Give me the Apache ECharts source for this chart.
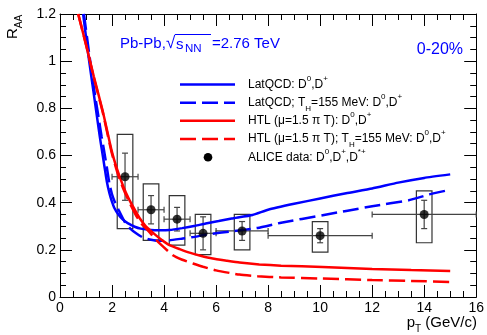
<!DOCTYPE html>
<html>
<head>
<meta charset="utf-8">
<script src="https://cdn.jsdelivr.net/npm/echarts@6/dist/echarts.min.js"></script>
<style>
html,body{margin:0;padding:0;background:#fff;}
#chart{width:487px;height:335px;}
</style>
</head>
<body>
<div id="chart"></div>
<script>
// ---- ALICE data points ----
const ptCenter = [2.5, 3.5, 4.5, 5.5, 7, 10, 14];
const ptLow    = [2, 3, 4, 5, 6, 8, 12];
const ptHigh   = [3, 4, 5, 6, 8, 12, 16];
const raa      = [0.51, 0.37, 0.33, 0.27, 0.28, 0.26, 0.35];
const statLow  = [0.41, 0.31, 0.28, 0.20, 0.24, 0.23, 0.29];
const statHigh = [0.61, 0.43, 0.38, 0.34, 0.32, 0.29, 0.41];
const sysLow   = [0.29, 0.24, 0.22, 0.18, 0.20, 0.19, 0.23];
const sysHigh  = [0.69, 0.48, 0.43, 0.35, 0.35, 0.32, 0.45];

// ---- model curves ----
const latX  = [0.89, 1.08, 1.3, 1.44, 1.53, 1.6, 1.7, 1.8, 1.9, 1.98, 2.1, 2.23, 2.4, 2.6, 2.87, 3.1, 3.5, 3.85, 4.2, 4.7, 5.2, 5.6, 6.1, 6.6, 7.4, 8, 9, 10, 11, 12, 13, 14, 15];
const latY  = [1.2, 1.033, 0.86, 0.75, 0.68, 0.63, 0.56, 0.49, 0.44, 0.41, 0.375, 0.352, 0.33, 0.313, 0.298, 0.29, 0.284, 0.283, 0.284, 0.292, 0.302, 0.312, 0.322, 0.333, 0.348, 0.37, 0.395, 0.418, 0.44, 0.46, 0.485, 0.505, 0.52];
const latTX = [0.92, 1.12, 1.34, 1.5, 1.6, 1.68, 1.8, 1.9, 2.0, 2.1, 2.25, 2.49, 2.7, 2.94, 3.19, 3.5, 3.83, 4.2, 4.72, 5.17, 5.62, 6.64, 7.6, 8.5, 10.1, 11, 12, 13.4, 14.2, 15];
const latTY = [1.2, 1.033, 0.86, 0.75, 0.68, 0.63, 0.55, 0.48, 0.435, 0.405, 0.37, 0.318, 0.29, 0.269, 0.252, 0.243, 0.238, 0.24, 0.248, 0.255, 0.265, 0.279, 0.293, 0.315, 0.347, 0.365, 0.385, 0.41, 0.435, 0.455];
const htlX  = [0.70, 1.0, 1.3, 1.64, 1.98, 2.2, 2.43, 2.65, 2.9, 3.07, 3.3, 3.6, 3.9, 4.21, 4.6, 4.98, 5.4, 5.87, 6.4, 6.9, 7.66, 8.5, 10.09, 12, 13.5, 15];
const htlY  = [1.2, 1.07, 0.935, 0.79, 0.623, 0.54, 0.47, 0.415, 0.365, 0.333, 0.30, 0.27, 0.243, 0.22, 0.203, 0.188, 0.175, 0.163, 0.154, 0.146, 0.138, 0.133, 0.127, 0.119, 0.114, 0.11];
const htlTX = [0.70, 1.0, 1.3, 1.64, 1.98, 2.2, 2.43, 2.65, 2.9, 3.1, 3.32, 3.55, 3.83, 4.34, 4.7, 5.11, 5.5, 6.0, 6.9, 7.6, 8.5, 10.09, 12, 13.5, 15];
const htlTY = [1.2, 1.07, 0.93, 0.785, 0.615, 0.53, 0.46, 0.405, 0.35, 0.315, 0.29, 0.26, 0.227, 0.177, 0.158, 0.142, 0.128, 0.113, 0.095, 0.088, 0.083, 0.078, 0.072, 0.068, 0.064];

// ---- axis ticks ----
const xTickStep = 2, yTickStep = 0.2;

const zip = (a, b) => a.map((v, i) => [v, b[i]]);
const errData = ptCenter.map((x, i) => [x, raa[i], ptLow[i], ptHigh[i], statLow[i], statHigh[i], sysLow[i], sysHigh[i]]);

const FONT = 'Liberation Sans, Arial, Helvetica, sans-serif';
const BLUE = '#0000ff', RED = '#ff0000';
const BOXHALF = 0.3;

const chart = echarts.init(document.getElementById('chart'), null, {renderer: 'canvas'});

function axisCommon(showLabel) {
  return {
    axisLine: {show: true, onZero: false, lineStyle: {color: '#000', width: 1}},
    axisTick: {show: true, inside: true, length: 12, lineStyle: {color: '#000', width: 1}},
    minorTick: {show: true, splitNumber: 4, length: 6, lineStyle: {color: '#000', width: 1}},
    splitLine: {show: false},
    minorSplitLine: {show: false},
    axisLabel: {show: showLabel, fontSize: 14, color: '#000', fontFamily: FONT, margin: 4}
  };
}

const rich = {
  n: {fontSize: 12, fontFamily: FONT, fill: '#000', color: '#000', lineHeight: 20, verticalAlign: 'middle'},
  sup: {fontSize: 8, fontFamily: FONT, fill: '#000', color: '#000', lineHeight: 9, verticalAlign: 'top'},
  sub: {fontSize: 8, fontFamily: FONT, fill: '#000', color: '#000', lineHeight: 9, verticalAlign: 'bottom'}
};

const legendRows = [
  {y: 84.5, color: BLUE, dash: false, text: '{n|LatQCD: D}{sup|0}{n|,D}{sup|+}'},
  {y: 102.7, color: BLUE, dash: true, text: '{n|LatQCD; T}{sub|H}{n|=155 MeV: D}{sup|0}{n|,D}{sup|+}'},
  {y: 120.8, color: RED, dash: false, text: '{n|HTL (\u03bc=1.5 \u03c0 T): D}{sup|0}{n|,D}{sup|+}'},
  {y: 139, color: RED, dash: true, text: '{n|HTL (\u03bc=1.5 \u03c0 T); T}{sub|H}{n|=155 MeV: D}{sup|0}{n|,D}{sup|+}'},
  {y: 157.3, color: null, dash: false, text: '{n|ALICE data: D}{sup|0}{n|,D}{sup|+}{n|,D}{sup|*+}'}
];

const graphics = [];
legendRows.forEach(r => {
  if (r.color) {
    graphics.push({type: 'line', shape: {x1: 180, y1: r.y, x2: 235, y2: r.y},
      style: {stroke: r.color, lineWidth: 2.5, lineDash: r.dash ? [16, 6] : null}});
  } else {
    graphics.push({type: 'circle', shape: {cx: 208, cy: r.y, r: 4.3}, style: {fill: '#000'}});
  }
  graphics.push({type: 'text', x: 248, y: r.y, style: {text: r.text, rich: rich, verticalAlign: 'middle', align: 'left'}});
});

// title pieces
function tText(x, y, s, size) {
  return {type: 'text', x: x, y: y, style: {text: s, fontSize: size, fontFamily: FONT, fill: BLUE, align: 'left', verticalAlign: 'middle'}};
}
graphics.push(tText(120, 44, 'Pb-Pb,', 15));
graphics.push(tText(166, 43, '\u221a', 17));
graphics.push(tText(176, 45, 's', 15));
graphics.push(tText(185, 49, 'NN', 11.5));
graphics.push(tText(212, 44, '=2.76 TeV', 15));
graphics.push({type: 'line', shape: {x1: 175, y1: 34.5, x2: 211, y2: 34.5}, style: {stroke: BLUE, lineWidth: 1}});
graphics.push({type: 'text', x: 463, y: 50, style: {text: '0-20%', fontSize: 16, fontFamily: FONT, fill: BLUE, align: 'right', verticalAlign: 'middle'}});

// axis titles
const aRich = {
  a: {fontSize: 15, fontFamily: FONT, fill: '#000', color: '#000', lineHeight: 22, verticalAlign: 'middle'},
  s: {fontSize: 10, fontFamily: FONT, fill: '#000', color: '#000', lineHeight: 11, verticalAlign: 'bottom'}
};
graphics.push({type: 'text', x: 477, y: 323, style: {text: '{a|p}{s|T}{a| (GeV/c)}', rich: aRich, align: 'right', verticalAlign: 'middle'}});
graphics.push({type: 'text', x: 13, y: 27, rotation: Math.PI / 2, style: {text: '{a|R}{s|AA}', rich: aRich, align: 'center', verticalAlign: 'middle'}});

const option = {
  animation: false,
  backgroundColor: '#fff',
  textStyle: {fontFamily: FONT},
  grid: {left: 60, right: 9, top: 14, bottom: 38, containLabel: false},
  xAxis: [
    Object.assign({type: 'value', min: 0, max: 16, interval: xTickStep, position: 'bottom'}, axisCommon(true)),
    Object.assign({type: 'value', min: 0, max: 16, interval: xTickStep, position: 'top'}, axisCommon(false))
  ],
  yAxis: [
    Object.assign({type: 'value', min: 0, max: 1.2, interval: yTickStep, position: 'left'}, axisCommon(true)),
    Object.assign({type: 'value', min: 0, max: 1.2, interval: yTickStep, position: 'right'}, axisCommon(false))
  ],
  series: [
    {
      type: 'custom', name: 'ALICE errors', xAxisIndex: 0, yAxisIndex: 0, z: 3,
      data: errData,
      renderItem: function (params, api) {
        const x = api.value(0), y = api.value(1);
        const p = api.coord([x, y]);
        const pl = api.coord([api.value(2), y]);
        const ph = api.coord([api.value(3), y]);
        const sl = api.coord([x, api.value(4)]);
        const sh = api.coord([x, api.value(5)]);
        const b1 = api.coord([x - BOXHALF, api.value(7)]);
        const b2 = api.coord([x + BOXHALF, api.value(6)]);
        const st = {stroke: '#444', lineWidth: 1.2, fill: null};
        return {
          type: 'group',
          children: [
            {type: 'rect', shape: {x: b1[0], y: b1[1], width: b2[0] - b1[0], height: b2[1] - b1[1]}, style: {stroke: '#333', lineWidth: 1.2, fill: null}},
            {type: 'line', shape: {x1: pl[0], y1: p[1], x2: ph[0], y2: p[1]}, style: st},
            {type: 'line', shape: {x1: pl[0], y1: p[1] - 3, x2: pl[0], y2: p[1] + 3}, style: st},
            {type: 'line', shape: {x1: ph[0], y1: p[1] - 3, x2: ph[0], y2: p[1] + 3}, style: st},
            {type: 'line', shape: {x1: p[0], y1: sl[1], x2: p[0], y2: sh[1]}, style: st},
            {type: 'line', shape: {x1: p[0] - 3, y1: sl[1], x2: p[0] + 3, y2: sl[1]}, style: st},
            {type: 'line', shape: {x1: p[0] - 3, y1: sh[1], x2: p[0] + 3, y2: sh[1]}, style: st}
          ]
        };
      }
    },
    {type: 'line', name: 'LatQCD', data: zip(latX, latY), smooth: 0.15, symbol: 'none', clip: true, z: 4,
      lineStyle: {color: BLUE, width: 2.5}},
    {type: 'line', name: 'LatQCD TH', data: zip(latTX, latTY), smooth: 0.15, symbol: 'none', clip: true, z: 4,
      lineStyle: {color: BLUE, width: 2.5, type: [16, 6]}},
    {type: 'line', name: 'HTL', data: zip(htlX, htlY), smooth: 0.15, symbol: 'none', clip: true, z: 4,
      lineStyle: {color: RED, width: 2.5}},
    {type: 'line', name: 'HTL TH', data: zip(htlTX, htlTY), smooth: 0.15, symbol: 'none', clip: true, z: 4,
      lineStyle: {color: RED, width: 2.5, type: [16, 6]}},
    {type: 'scatter', name: 'ALICE data', data: zip(ptCenter, raa), symbol: 'circle', symbolSize: 9, z: 5,
      itemStyle: {color: '#000'}}
  ],
  graphic: graphics
};
chart.setOption(option);
</script>
</body>
</html>
